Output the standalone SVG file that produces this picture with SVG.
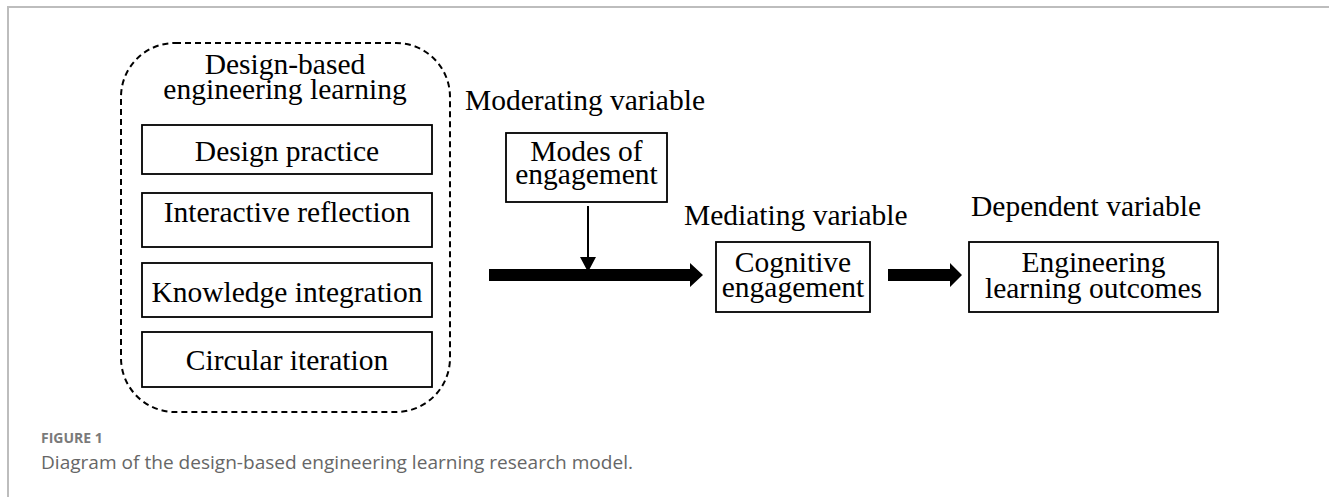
<svg xmlns="http://www.w3.org/2000/svg" width="1329" height="497" viewBox="0 0 1329 497">
<defs>
<style>
.t{font-family:"Liberation Serif","Times New Roman",serif;font-size:29.5px;fill:#000;}
.c{text-anchor:middle;}
.box{fill:#fff;stroke:#000;stroke-width:1.8;}
.frame{stroke:#bdbdbd;stroke-width:2;fill:none;}
.cap1{font-family:"Open Sans","Liberation Sans",sans-serif;font-size:14px;font-weight:bold;fill:#7a7a7a;}
.cap2{font-family:"Open Sans","Liberation Sans",sans-serif;font-size:18.5px;fill:#666;}
</style>
</defs>
<rect width="1329" height="497" fill="#fff"/>
<path class="frame" d="M8 497 V7 H1329"/>

<g id="group-design-based">
<rect x="121" y="43" width="329" height="369" rx="54" ry="54" fill="none" stroke="#000" stroke-width="2" stroke-dasharray="6 4"/>
<text class="t c" x="285" y="74">Design-based</text>
<text class="t c" x="285" y="99">engineering learning</text>
</g>
<g id="node-design-practice">
<rect class="box" x="142" y="125" width="290" height="49"/>
<text class="t c" x="287" y="161">Design practice</text>
</g>
<g id="node-interactive-reflection">
<rect class="box" x="142" y="193" width="290" height="54"/>
<text class="t c" x="287" y="222">Interactive reflection</text>
</g>
<g id="node-knowledge-integration">
<rect class="box" x="142" y="263" width="290" height="54"/>
<text class="t c" x="287" y="302">Knowledge integration</text>
</g>
<g id="node-circular-iteration">
<rect class="box" x="142" y="332" width="290" height="55"/>
<text class="t c" x="287" y="370">Circular iteration</text>
</g>

<g id="label-moderating">
<text class="t" x="465" y="110">Moderating variable</text>
</g>
<g id="node-modes">
<rect class="box" x="506" y="133" width="161" height="69"/>
<text class="t c" x="586.5" y="161">Modes of</text>
<text class="t c" x="586.5" y="184">engagement</text>
</g>

<g id="label-mediating">
<text class="t" x="684" y="225">Mediating variable</text>
</g>
<g id="node-cognitive">
<rect class="box" x="716" y="242" width="154" height="70"/>
<text class="t c" x="793" y="272">Cognitive</text>
<text class="t c" x="793" y="297">engagement</text>
</g>

<g id="label-dependent">
<text class="t" x="971" y="216">Dependent variable</text>
</g>
<g id="node-outcomes">
<rect class="box" x="969" y="242" width="249" height="70"/>
<text class="t c" x="1093.5" y="272">Engineering</text>
<text class="t c" x="1093.5" y="298">learning outcomes</text>
</g>

<g id="connectors">
<polygon points="489,269 690,269 690,263 703,275 690,287 690,281 489,281" fill="#000"/>
<polygon points="888,269 950,269 950,263 962,275 950,287 950,281 888,281" fill="#000"/>
<line x1="588" y1="206" x2="588" y2="258" stroke="#000" stroke-width="2"/>
<polygon points="580,257 596,257 588,272" fill="#000"/>
</g>

<g id="caption">
<text class="cap1" x="41" y="443">FIGURE 1</text>
<text class="cap2" x="41" y="469" textLength="592" lengthAdjust="spacingAndGlyphs">Diagram of the design-based engineering learning research model.</text>
</g>
</svg>
